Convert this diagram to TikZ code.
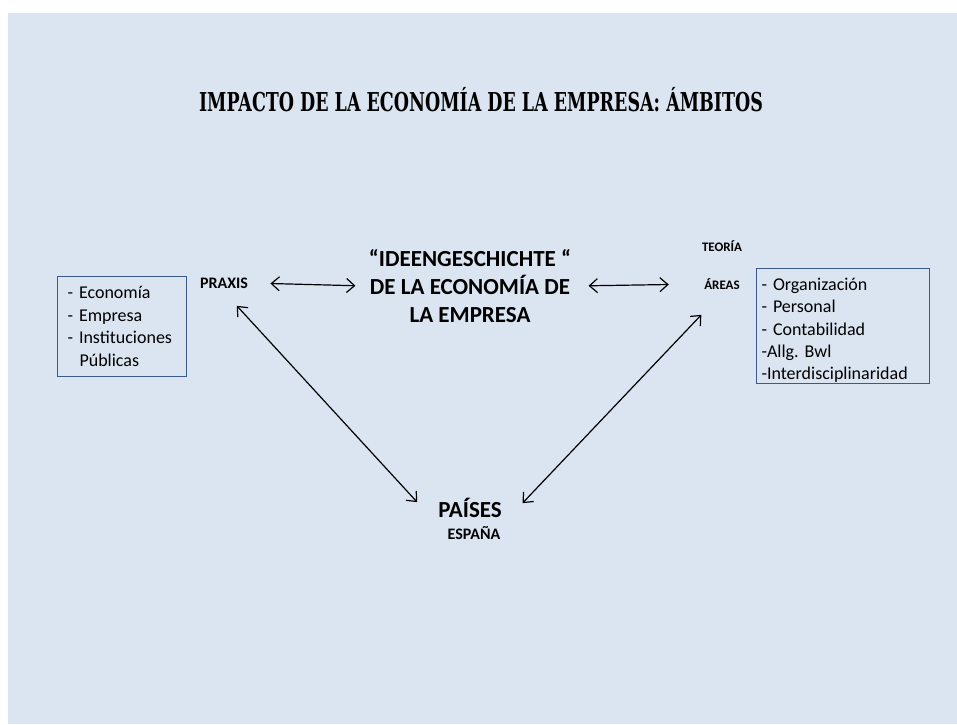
\documentclass[tikz,border=0pt]{standalone}
\usepackage{fontspec}
\setmainfont{Carlito}
\newfontfamily\headfont{DejaVu Serif}
\usetikzlibrary{arrows.meta}

\definecolor{slidebg}{HTML}{DBE5F1}
\definecolor{boxline}{HTML}{3A5A8A}

\tikzset{
  twoway/.style={{Straight Barb[length=8pt,width=14pt,line width=1.2pt]}-{Straight Barb[length=8pt,width=14pt,line width=1.2pt]}, line width=1.2pt},
  listbox/.style={draw=boxline, line width=1pt, anchor=north west, align=left, inner ysep=0pt}
}

\begin{document}
\begin{tikzpicture}[x=1pt,y=-1pt]

      \useasboundingbox (0,0) rectangle (957,724);
      \fill[slidebg] (8,13) rectangle (957,724);

      % title
      \node (title) at (481,100) [font=\headfont\bfseries\fontsize{26}{30}\selectfont]
        {\scalebox{0.672}[1]{IMPACTO DE LA ECONOMÍA DE LA EMPRESA: ÁMBITOS}};

      \begin{scope}[every node/.style={}]
        \node (praxis) at (224,283) [font=\bfseries\fontsize{16}{19}\selectfont] {PRAXIS};
        \node (ideen)  at (470,286) [align=center, font=\bfseries\fontsize{23}{28}\selectfont]
          {``IDEENGESCHICHTE ``\\DE LA ECONOMÍA DE\\LA EMPRESA};
        \node (teoria) at (722,246) [font=\bfseries\fontsize{13}{16}\selectfont] {TEORÍA};
        \node (areas)  at (722,284) [font=\bfseries\fontsize{13}{16}\selectfont] {ÁREAS};
        \node (paises) at (470,508) [font=\bfseries\fontsize{23}{28}\selectfont] {PAÍSES};
        \node (espana) at (474,533) [font=\bfseries\fontsize{16}{19}\selectfont] {ESPAÑA};
      \end{scope}

      \begin{scope}[every node/.style={listbox}]
        \node (ambitos) at (57,276) [text width=109pt, inner xsep=10pt, minimum height=100pt,
            font=\frenchspacing\fontsize{18}{22.5}\selectfont]
          {- Economía\\- Empresa\\- Instituciones\\\hspace*{12pt}Públicas};
        \node (campos) at (756,268) [text width=163pt, inner xsep=5pt,
            font=\frenchspacing\fontsize{18}{22.25}\selectfont]
          {\rule{0pt}{22pt}- Organización\\- Personal\\- Contabilidad\\-Allg. Bwl\\-Interdisciplinaridad\rule[-4pt]{0pt}{4pt}};
      \end{scope}

      \begin{scope}[every edge/.style={draw,twoway}]
        \path (praxis.east)  edge[shorten <=19pt, shorten >=10pt] (ideen.west);
        \path (ideen.east)   edge[shorten <=14pt, shorten >=32pt] (areas.west);
        \path (praxis.south) edge[shorten <=19pt, shorten >=26pt] (paises.south west);
        \path (areas.south)  edge[shorten <=30pt, shorten >=25pt] (paises.south east);
      \end{scope}

\end{tikzpicture}
\end{document}
